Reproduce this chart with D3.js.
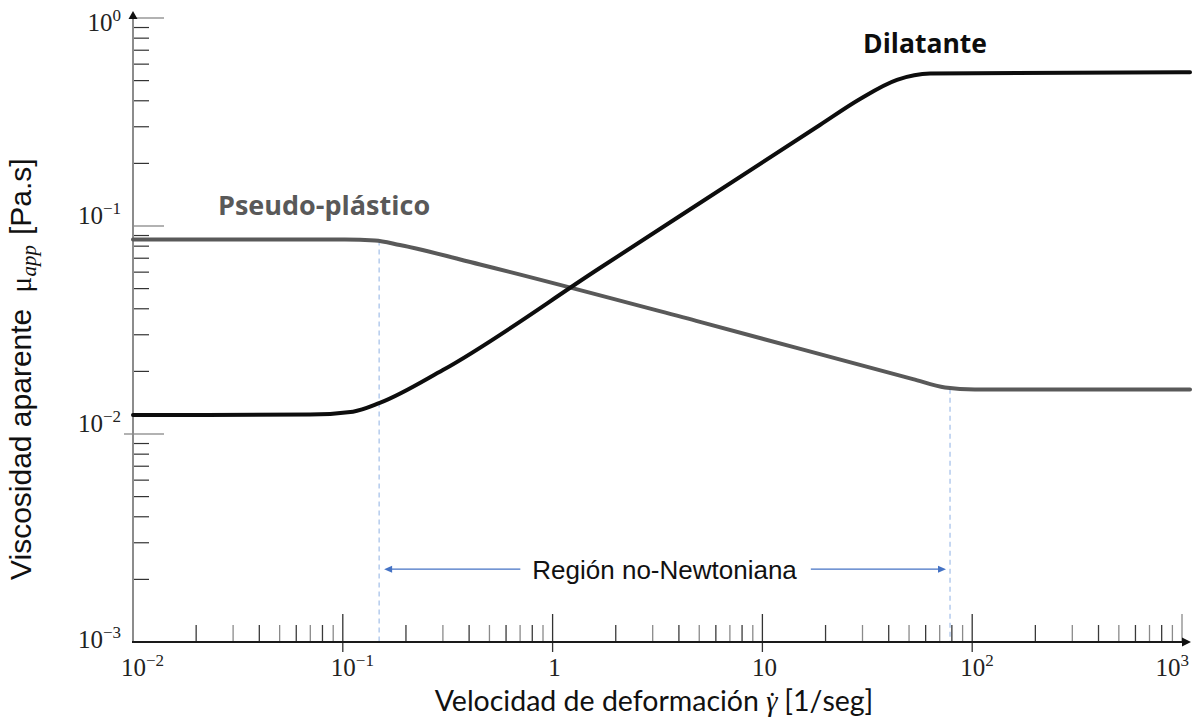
<!DOCTYPE html>
<html><head><meta charset="utf-8">
<script src="https://cdn.jsdelivr.net/npm/d3@7"></script>
<style>body{margin:0;background:#fff}svg{display:block}</style>
</head><body><svg id="c" width="1198" height="723"></svg>
<script>
// ---- data ----
const pseudoGamma = [0.01, 0.0625, 0.1024, 0.1424, 0.187, 0.451, 5.04, 52.2, 74.2, 103, 1092];
const pseudoMu    = [0.0861, 0.0861, 0.0861, 0.0852, 0.0810, 0.0653, 0.0346, 0.01836, 0.01674, 0.01637, 0.01637];
const dilatGamma  = [0.01, 0.0698, 0.1118, 0.150, 0.300, 1.68, 18.8, 29.2, 43.8, 63.0, 1092];
const dilatMu     = [0.01234, 0.0124, 0.0128, 0.0141, 0.0203, 0.0628, 0.306, 0.408, 0.504, 0.541, 0.549];
const regionBounds = [0.149, 78.4];       // shear rates of the dashed limits
const regionTops   = [0.0852, 0.0165];    // viscosity where the dashed lines end
const regionArrowMu = 0.00224;
const xMajorTicks = [0.01, 0.1, 1, 10, 100, 1000];
const xTickLabels = ["10^−2", "10^−1", "1", "10", "10^2", "10^3"];
const yMajorTicks = [1, 0.1, 0.01, 0.001];
const yTickLabels = ["10^0", "10^−1", "10^−2", "10^−3"];
const curveLabels = ["Pseudo-plástico", "Dilatante"];
const curveLabelPos = [[0.0254, 0.113], [30.2, 0.68]];

// ---- scales ----
const svg = d3.select('#c');
const x = d3.scaleLog().domain([1e-2, 1e3]).range([133, 1182]);
const y = d3.scaleLog().domain([1e-3, 1]).range([642, 18]);
const isPow = v => Math.abs(Math.log10(v) - Math.round(Math.log10(v))) < 1e-6;

// ---- x ticks ----
const gx = svg.append('g');
x.ticks().filter(v => !isPow(v)).forEach((v, i) => {
  gx.append('line').attr('x1', x(v)).attr('x2', x(v)).attr('y1', 625).attr('y2', 642)
    .attr('stroke', i % 2 ? '#8a8a8a' : '#3a3a3a').attr('stroke-width', 1.3);
});
xMajorTicks.forEach(v => {
  if (v === 0.01) return;
  gx.append('line').attr('x1', x(v)).attr('x2', x(v)).attr('y1', 614).attr('y2', v === 1000 ? 642 : 652)
    .attr('stroke', v === 1000 ? '#8a8a8a' : '#333').attr('stroke-width', 1.3);
});
xMajorTicks.forEach((v, i) => {
  const parts = xTickLabels[i].split('^');
  const t = gx.append('text').attr('y', 676)
    .attr('font-family', 'Liberation Serif, serif').attr('font-size', 25).attr('fill', '#222');
  if (parts.length === 1) {
    t.attr('x', x(v) + 2).attr('text-anchor', 'middle').text(parts[0]);
  } else {
    t.attr('x', x(v) - 12);
    t.append('tspan').text(parts[0]);
    t.append('tspan').attr('dy', -10).attr('font-size', 17).text(parts[1]);
    const w = t.node().getComputedTextLength();
    if (x(v) - 12 + w > 1189) t.attr('x', 1189 - w);
  }
});

// ---- y ticks ----
const gy = svg.append('g');
y.ticks().filter(v => !isPow(v)).forEach(v => {
  gy.append('line').attr('x1', 133).attr('x2', 149).attr('y1', y(v)).attr('y2', y(v))
    .attr('stroke', '#333').attr('stroke-width', 1.2);
});
yMajorTicks.forEach((v, i) => {
  if (v === 0.001) return;
  gy.append('line').attr('x1', v === 0.01 ? 124 : 133).attr('x2', 164).attr('y1', y(v)).attr('y2', y(v))
    .attr('stroke', '#999').attr('stroke-width', 1.5);
});
yMajorTicks.forEach((v, i) => {
  const parts = yTickLabels[i].split('^');
  const dy = i === 0 ? 13 : (i === yMajorTicks.length - 1 ? 6 : -2);
  const t = gy.append('text').attr('x', 121).attr('y', y(v) + dy).attr('text-anchor', 'end')
    .attr('font-family', 'Liberation Serif, serif').attr('font-size', 25).attr('fill', '#222');
  t.append('tspan').text(parts[0]);
  t.append('tspan').attr('dy', -10).attr('font-size', 17).text(parts[1]);
});

// ---- axis lines ----
svg.append('line').attr('x1', 133).attr('x2', 133).attr('y1', 643).attr('y2', 17)
  .attr('stroke', '#8c8c8c').attr('stroke-width', 2);
svg.append('path').attr('d', 'M133,11 L128.5,19 L137.5,19 Z').attr('fill', '#111');
svg.append('line').attr('x1', 132).attr('x2', 1184).attr('y1', 642).attr('y2', 642)
  .attr('stroke', '#1a1a1a').attr('stroke-width', 2);
svg.append('path').attr('d', 'M1191,642 L1182,637.5 L1182,646.5 Z').attr('fill', '#111');

// ---- dashed limits ----
regionBounds.forEach((g, i) => {
  svg.append('line').attr('x1', x(g)).attr('x2', x(g)).attr('y1', y(regionTops[i])).attr('y2', 641)
    .attr('stroke', '#a9c3ea').attr('stroke-width', 1.3).attr('stroke-dasharray', '5,4');
});

// ---- curves ----
const line = d3.line().x(d => x(d[0])).y(d => y(d[1])).curve(d3.curveMonotoneX);
svg.append('path').datum(pseudoGamma.map((g, i) => [g, pseudoMu[i]]))
  .attr('d', line).attr('fill', 'none').attr('stroke', '#595959').attr('stroke-width', 4)
  .attr('stroke-linejoin', 'round').attr('stroke-linecap', 'round');
svg.append('path').datum(dilatGamma.map((g, i) => [g, dilatMu[i]]))
  .attr('d', line).attr('fill', 'none').attr('stroke', '#0d0d0d').attr('stroke-width', 4)
  .attr('stroke-linejoin', 'round').attr('stroke-linecap', 'round');

// ---- curve labels ----
const labelColors = ['#595959', '#0d0d0d'];
curveLabels.forEach((s, i) => {
  svg.append('text').attr('x', x(curveLabelPos[i][0])).attr('y', y(curveLabelPos[i][1]))
    .attr('font-family', 'Open Sans, sans-serif').attr('font-weight', 700)
    .attr('font-size', i === 0 ? 27 : 26.5).attr('fill', labelColors[i]).text(s);
});

// ---- region annotation ----
const xa = x(regionBounds[0]), xb = x(regionBounds[1]), ya = y(regionArrowMu);
const rt = svg.append('text').attr('x', (xa + xb) / 2).attr('y', ya).attr('dy', '0.36em')
  .attr('text-anchor', 'middle').attr('font-family', 'Liberation Sans, Arial, sans-serif')
  .attr('font-size', 26).attr('fill', '#111').text('Región no-Newtoniana');
const tw = rt.node().getComputedTextLength();
const tl = (xa + xb) / 2 - tw / 2, tr = (xa + xb) / 2 + tw / 2;
const blue = '#4472c4';
svg.append('line').attr('x1', xa + 12).attr('x2', tl - 12).attr('y1', ya).attr('y2', ya).attr('stroke', blue).attr('stroke-width', 1.3);
svg.append('path').attr('d', `M${xa + 5},${ya} L${xa + 13},${ya - 3.5} L${xa + 13},${ya + 3.5} Z`).attr('fill', blue);
svg.append('line').attr('x1', tr + 14).attr('x2', xb - 11).attr('y1', ya).attr('y2', ya).attr('stroke', blue).attr('stroke-width', 1.3);
svg.append('path').attr('d', `M${xb - 4},${ya} L${xb - 12},${ya - 3.5} L${xb - 12},${ya + 3.5} Z`).attr('fill', blue);

// ---- axis titles ----
const xt = svg.append('text').attr('x', 654).attr('y', 711).attr('text-anchor', 'middle')
  .attr('font-family', 'Lato, sans-serif').attr('font-size', 28.5).attr('fill', '#111');
xt.append('tspan').text('Velocidad de deformación ');
xt.append('tspan').attr('font-family', 'Liberation Serif, serif').attr('font-style', 'italic').text('γ');
xt.append('tspan').attr('font-family', 'Liberation Serif, serif').attr('dx', -10).attr('dy', 2).text('˙');
xt.append('tspan').attr('dy', -2).text(' [1/seg]');

const yt = svg.append('text').attr('transform', 'translate(31,580) rotate(-90)')
  .attr('font-family', 'Liberation Sans, Arial, sans-serif').attr('font-size', 30).attr('fill', '#111');
yt.append('tspan').text('Viscosidad aparente');
yt.append('tspan').attr('dx', 16).attr('font-family', 'Liberation Serif, serif').text('μ');
yt.append('tspan').attr('font-family', 'Liberation Serif, serif').attr('font-style', 'italic')
  .attr('font-size', 21).attr('dy', 5).text('app');
yt.append('tspan').attr('dy', -5).attr('dx', 10).text('[Pa.s]');
</script></body></html>
